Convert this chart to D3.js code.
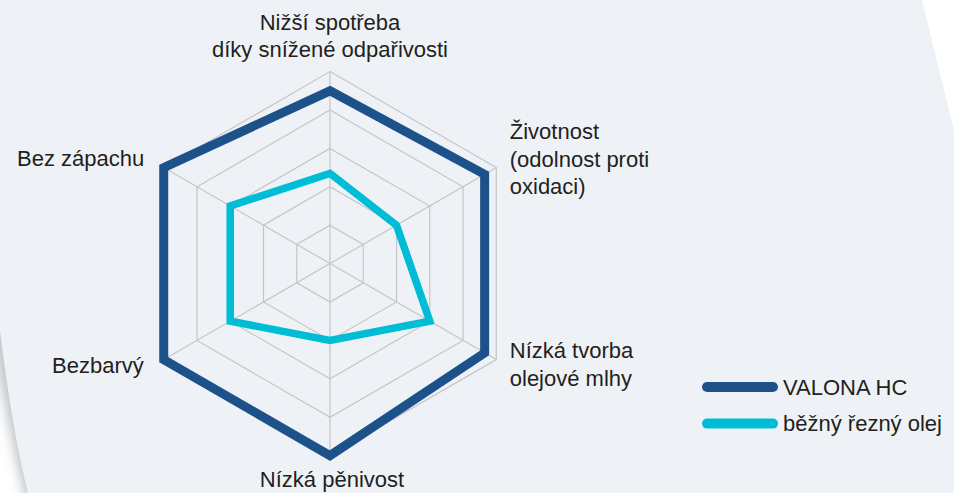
<!DOCTYPE html>
<html>
<head>
<meta charset="utf-8">
<script src="https://cdn.jsdelivr.net/npm/d3@7"></script>
<style>
  html, body { margin: 0; padding: 0; background: #fff; }
  svg { display: block; font-family: "Liberation Sans", Arial, Helvetica, sans-serif; }
</style>
</head>
<body>
<div id="chart"></div>
<script>
// axis labels, clockwise from the top (one entry per line)
const axisLabels = [
  ["Nižší spotřeba", "díky snížené odpařivosti"],
  ["Životnost", "(odolnost proti", "oxidaci)"],
  ["Nízká tvorba", "olejové mlhy"],
  ["Nízká pěnivost"],
  ["Bezbarvý"],
  ["Bez zápachu"]
];
const seriesNames = ["VALONA HC", "běžný řezný olej"];
const valonaValues = [4.5, 4.65, 4.65, 5, 5, 5];
const beznyValues = [2.35, 2, 3, 2, 3, 3];
const ringTicks = [1, 2, 3, 4, 5];

const width = 954;
const height = 493;
const cx = 330, cy = 263.6;
const radius = 192;
const colors = ["#1c518a", "#00bdd6"];
const strokeWidths = [9, 7.5];

const svg = d3.select("#chart").append("svg")
  .attr("width", width)
  .attr("height", height);

// background panel with soft shadow on the left edge
const defs = svg.append("defs");
const blur = defs.append("filter").attr("id", "shadow")
  .attr("x", "-20%").attr("y", "-20%").attr("width", "140%").attr("height", "140%");
blur.append("feGaussianBlur").attr("stdDeviation", 7);

const panelPath = "M0,0 L922,0 L954,130 L954,493 L28,493 Q12,430 0,330 Z";
svg.append("path")
  .attr("d", "M34,500 Q16,430 -2,320")
  .attr("fill", "none")
  .attr("stroke", "#9aa0a8")
  .attr("stroke-width", 10)
  .attr("filter", "url(#shadow)");
svg.append("path")
  .attr("d", panelPath)
  .attr("fill", "#eef2f6");

const r = d3.scaleLinear().domain([0, 5]).range([0, radius]);
const angle = i => (-90 + 60 * i) * Math.PI / 180;
const pt = (i, v) => [cx + r(v) * Math.cos(angle(i)), cy + r(v) * Math.sin(angle(i))];

const g = svg.append("g");

// grid rings
const ringLine = d3.line().curve(d3.curveLinearClosed);
g.selectAll("path.ring")
  .data(ringTicks)
  .join("path")
  .attr("class", "ring")
  .attr("d", t => ringLine(axisLabels.map((_, i) => pt(i, t))))
  .attr("fill", "none")
  .attr("stroke", "#c3c5c8")
  .attr("stroke-width", 1.2);

// spokes
g.selectAll("line.spoke")
  .data(axisLabels)
  .join("line")
  .attr("class", "spoke")
  .attr("x1", cx).attr("y1", cy)
  .attr("x2", (d, i) => pt(i, 5)[0])
  .attr("y2", (d, i) => pt(i, 5)[1])
  .attr("stroke", "#c3c5c8")
  .attr("stroke-width", 1.2);

// series
[valonaValues, beznyValues].forEach((vals, s) => {
  g.append("path")
    .attr("d", ringLine(vals.map((v, i) => pt(i, v))))
    .attr("fill", "none")
    .attr("stroke", colors[s])
    .attr("stroke-width", strokeWidths[s])
    .attr("stroke-linejoin", "miter");
});

// axis labels
const lineH = 27.5;
const labelPlace = [
  { anchor: "middle", dx: 0, dy: -14.5, up: true },
  { anchor: "start", dx: 13.5, dy: -28.5 },
  { anchor: "start", dx: 13.5, dy: -1.5 },
  { anchor: "middle", dx: 2, dy: 31.5 },
  { anchor: "end", dx: -20, dy: 13 },
  { anchor: "end", dx: -19.5, dy: -1.5 }
];
axisLabels.forEach((lines, i) => {
  const [px, py] = pt(i, 5);
  const p = labelPlace[i];
  const first = p.up ? py + p.dy - (lines.length - 1) * lineH : py + p.dy;
  const t = svg.append("text")
    .attr("text-anchor", p.anchor)
    .attr("fill", "#231f20")
    .style("font-size", "22px");
  lines.forEach((ln, k) => {
    t.append("tspan")
      .attr("x", px + p.dx)
      .attr("y", first + k * lineH)
      .text(ln);
  });
});

// legend
const legend = svg.append("g").attr("transform", "translate(707,387)");
seriesNames.forEach((name, s) => {
  const row = legend.append("g").attr("transform", `translate(0,${s * 36.6})`);
  row.append("line")
    .attr("x1", 0).attr("x2", 66)
    .attr("stroke", colors[s])
    .attr("stroke-width", 10)
    .attr("stroke-linecap", "round");
  row.append("text")
    .attr("x", 76)
    .attr("y", 7.5)
    .attr("fill", "#231f20")
    .style("font-size", "22px")
    .text(name);
});
</script>
</body>
</html>
